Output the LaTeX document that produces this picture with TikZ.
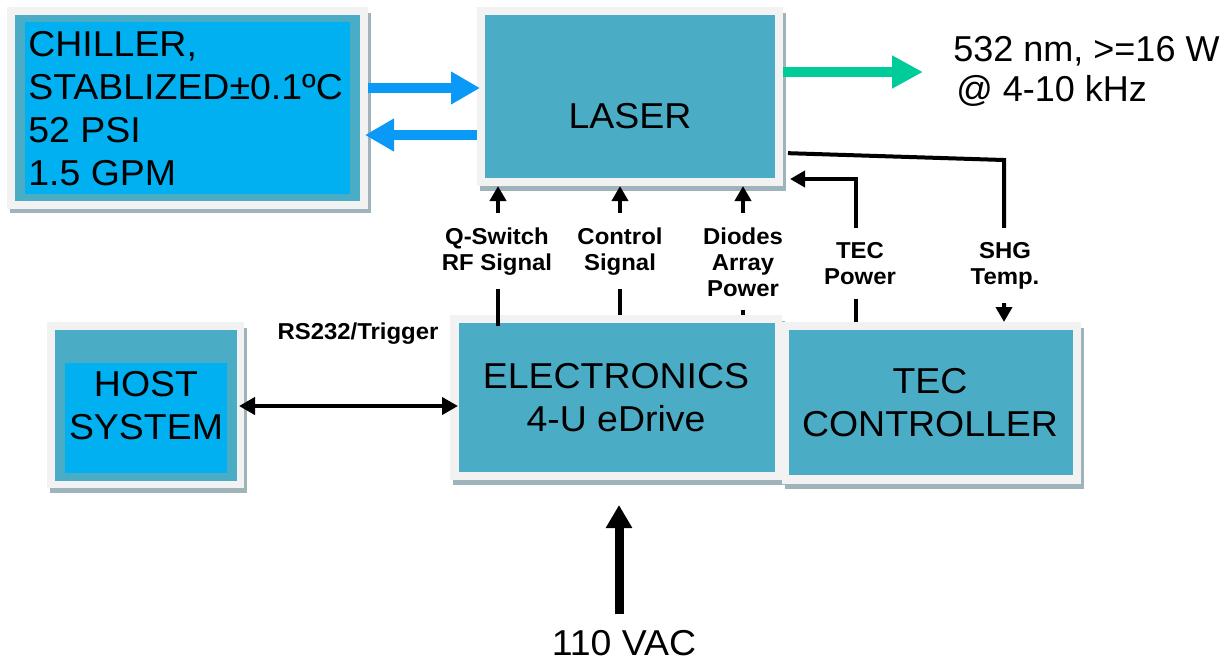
\documentclass[tikz,border=0pt]{standalone}
\usepackage{fontspec}
\setmainfont[FakeStretch=1.04]{Liberation Sans}
\newfontfamily\specfont{Liberation Sans}
\usetikzlibrary{arrows.meta,fit,calc}
\definecolor{tealc}{HTML}{4BACC6}
\definecolor{bluec}{HTML}{00B0F0}
\definecolor{framec}{HTML}{F2F2F2}
\definecolor{shadc}{HTML}{9EB3BA}
\definecolor{arrblue}{HTML}{0A99F7}
\definecolor{arrgreen}{HTML}{00CC99}
\begin{document}
\begin{tikzpicture}[x=0.5pt,y=-0.5pt,
  big/.style={font=\fontsize{18pt}{21.5pt}\selectfont},
  lab/.style={font=\fontsize{11.5pt}{13pt}\selectfont\bfseries, align=center, fill=white, inner xsep=2pt, inner ysep=7pt, anchor=north},
  boxframe/.style={fill=framec, inner sep=0pt, outer sep=0pt},
  ctl/.style={line width=2pt, -{Triangle[length=7.5pt,width=8pt]}},
  dbl/.style={line width=2pt, {Triangle[length=8pt,width=8.5pt]}-{Triangle[length=8pt,width=8.5pt]}},
  bluearr/.style={draw=arrblue, line width=5pt, -{Triangle[length=14.5pt,width=15.5pt]}},
  greenarr/.style={draw=arrgreen, line width=5pt, -{Triangle[length=15.5pt,width=15.5pt]}},
  bigarr/.style={line width=4.5pt, -{Triangle[length=11.5pt,width=12.5pt]}}
]
\useasboundingbox (0,0) rectangle (1222,661);
\fill[white] (0,0) rectangle (1222,661);

% chiller
\fill[shadc] (10,13) rectangle (371,213);
\node[boxframe, fit={(7,7) (368,209)}] (chiller) {};
\fill[tealc] (15,15) rectangle (360,201);
\fill[bluec] (25,22) rectangle (350,194);
\node[big, align=left, anchor=north west, inner sep=0pt] (chillertxt) at (28,31) {CHILLER,\\STABLIZED±0.1ºC\\52 PSI\\1.5 GPM};

% laser
\fill[shadc] (480,13) rectangle (786,191);
\node[boxframe, fit={(477,7) (783,186)}] (laser) {};
\fill[tealc] (485,15) rectangle (775,178);
\node[big] (lasertxt) at (630,116) {LASER};

% host
\fill[shadc] (50,328) rectangle (247,493);
\node[boxframe, fit={(47,322) (244,488)}] (host) {};
\fill[tealc] (55,330) rectangle (237,481);
\fill[bluec] (65,363) rectangle (227,473);
\node[big, align=center, inner sep=0pt] (hosttxt) at (146,406) {HOST\\SYSTEM};

% electronics
\fill[shadc] (453,321) rectangle (785,485);
\node[boxframe, fit={(450,315) (782,480)}] (elec) {};
\fill[tealc] (459,323) rectangle (775,472);
\node[big, align=center, inner sep=0pt] (electxt) at (616,397.5) {ELECTRONICS\\4-U eDrive};

% TEC controller
\fill[shadc] (785,328) rectangle (1084,489);
\node[boxframe, fit={(782,322) (1081,484)}] (tec) {};
\fill[tealc] (789,330) rectangle (1073,475);
\node[big, align=center, inner sep=0pt] (tectxt) at (930,402.5) {TEC\\CONTROLLER};

% chiller <-> laser
\draw[bluearr, shorten >=-1.5pt] (chiller.east |- 0,88) -- (laser.west |- 0,88);
\draw[bluearr, shorten >=-1.5pt] (laser.west |- 0,135) -- (chiller.east |- 0,135);

% output beam
\coordinate (beam) at (923,72);
\draw[greenarr] (laser.east |- 0,72) -- (beam);
\node[anchor=north west, inner sep=0pt, align=left, font=\specfont\fontsize{18pt}{20pt}\selectfont] (spec) at (953,36) {532 nm, >=16 W\\\hspace*{1.5pt}@ 4-10 kHz};

% control lines
\draw[ctl, shorten <=-5.5pt] (elec.north -| 498,0) -- (laser.south -| 498,0);
\draw[ctl] (elec.north -| 620,0) -- (laser.south -| 620,0);
\draw[ctl] (elec.north -| 743,0) -- (laser.south -| 743,0);
\draw[ctl, shorten >=3.5pt] (tec.north -| 856,0) |- (laser.east |- 0,179);
\coordinate (shgc) at (1004,160);
\draw[ctl, shorten <=2.5pt] (laser.east |- 0,153) -- (shgc) -- (tec.north -| shgc);

% host <-> electronics
\draw[dbl, shorten <=-2.5pt, shorten >=-4pt] (host.east |- 0,406) -- (elec.west |- 0,406);
\node[font=\fontsize{11.5pt}{13pt}\selectfont\bfseries, anchor=base, inner sep=0pt] (rs) at (358,339) {RS232/Trigger};

% power
\node[big, anchor=base, inner sep=0pt] (vac) at (624,655) {110 VAC};
\coordinate (vacTop) at ([xshift=-2.5pt,yshift=7.5pt]vac.north);
\draw[bigarr, shorten >=12.5pt] (vacTop) -- (vacTop |- elec.south);

% labels
\node[lab] (lq) at (497,213) {Q-Switch\\RF Signal};
\node[lab] (lc) at (620,213) {Control\\Signal};
\node[lab] (ld) at (743,213) {Diodes\\Array\\Power};
\node[lab] (lt) at (860,228) {TEC\\Power};
\node[lab] (ls) at (1005,228) {SHG\\Temp.};
\end{tikzpicture}
\end{document}
